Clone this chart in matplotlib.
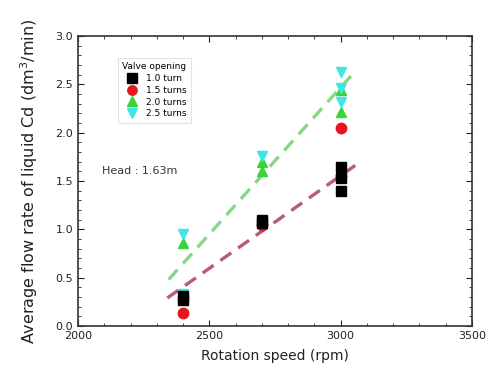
import matplotlib
matplotlib.use("Agg")
import matplotlib.pyplot as plt
from matplotlib.ticker import MultipleLocator, FormatStrFormatter

# Data
x_10 = [2400, 2400, 2700, 2700, 3000, 3000, 3000]
y_10 = [0.27, 0.31, 1.07, 1.10, 1.65, 1.53, 1.40]
x_15 = [2400, 2700, 3000, 3000]
y_15 = [0.13, 1.05, 2.05, 1.55]
x_20 = [2400, 2700, 2700, 3000, 3000]
y_20 = [0.86, 1.60, 1.70, 2.21, 2.44]
x_25 = [2400, 2400, 2700, 3000, 3000, 3000]
y_25 = [0.95, 0.33, 1.76, 2.63, 2.32, 2.46]

fit_low_x = [2340, 3060]
fit_low_y = [0.29, 1.67]
fit_high_x = [2345, 3060]
fit_high_y = [0.48, 2.65]

labels = ["1.0 turn", "1.5 turns", "2.0 turns", "2.5 turns"]

fig = plt.figure(figsize=(4.93, 3.9), dpi=100)
ax = fig.add_axes([78/493, 1-326/390, (472-78)/493, (326-36)/390])

ax.plot(fit_low_x, fit_low_y, ls=(0, (4, 2.5)), color="#b85a7a", lw=2.4, zorder=1)
ax.plot(fit_high_x, fit_high_y, ls=(0, (4, 2.5)), color="#86d886", lw=2.4, zorder=1)

ms = 7.5
ax.plot(x_10, y_10, "s", color="black", ms=ms, ls="none", label=labels[0], zorder=3)
ax.plot(x_15, y_15, "o", color="#e8141e", ms=ms, ls="none", label=labels[1], zorder=2)
ax.plot(x_20, y_20, "^", color="#3ad43a", ms=ms, ls="none", label=labels[2], zorder=2)
ax.plot(x_25, y_25, "v", color="#3ee6e6", ms=ms, ls="none", label=labels[3], zorder=2)

ax.set_xlim(2000, 3500)
ax.set_ylim(0, 3.0)
ax.xaxis.set_major_locator(MultipleLocator(500))
ax.xaxis.set_minor_locator(MultipleLocator(100))
ax.yaxis.set_major_locator(MultipleLocator(0.5))
ax.yaxis.set_minor_locator(MultipleLocator(0.1))
ax.tick_params(which="both", direction="in", top=True, right=True, labelsize=8, colors="#222222")
ax.tick_params(which="major", length=4)
ax.tick_params(which="minor", length=2)
ax.yaxis.set_major_formatter(FormatStrFormatter("%.1f"))
for s in ax.spines.values():
    s.set_linewidth(1.2)
    s.set_color("#333333")

ax.set_xlabel("Rotation speed (rpm)", fontsize=10, color="#222222", labelpad=6)
ax.set_ylabel("Average flow rate of liquid Cd (dm$^3$/min)", fontsize=11.5,
              color="#222222", labelpad=11)

leg = ax.legend(title="Valve opening", loc="upper left", bbox_to_anchor=(0.09, 0.94),
                fontsize=6.5, title_fontsize=6.5, frameon=True, handletextpad=0.6,
                borderpad=0.5, labelspacing=0.3, markerscale=0.9, fancybox=False)
leg.get_frame().set_edgecolor("#dddddd")
leg.get_frame().set_linewidth(0.8)

ax.text(2090, 1.6, "Head : 1.63m", fontsize=8, color="#333333", va="center")

fig.savefig("out.png", dpi=100)
